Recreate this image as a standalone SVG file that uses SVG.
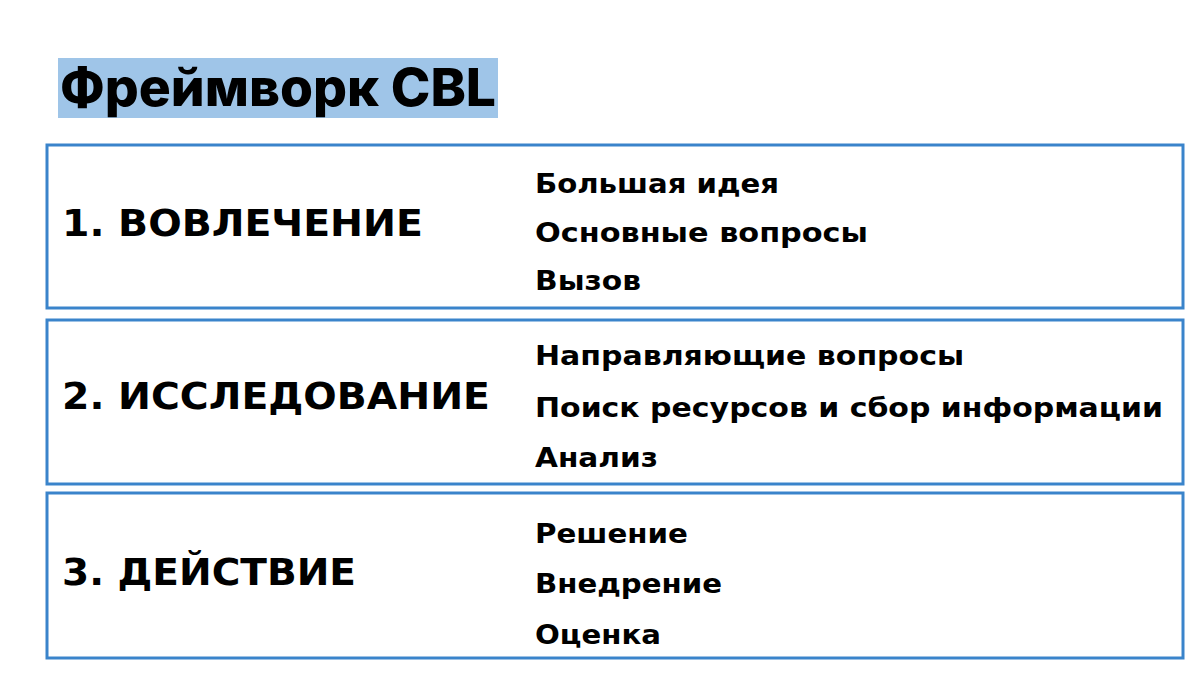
<svg xmlns="http://www.w3.org/2000/svg" width="1200" height="675" viewBox="0 0 1200 675">
<style>
.box{fill:#ffffff;stroke:#3a84cb;stroke-width:3}
.h{font-family:"DejaVu Sans",Verdana,sans-serif;font-weight:bold;font-size:38px;fill:#000}
.i{font-family:"DejaVu Sans",Verdana,sans-serif;font-weight:bold;font-size:27px;fill:#000}
.t{font-family:Inter,"Open Sans",sans-serif;font-weight:800;font-size:52px;fill:#000}
</style>
<rect width="1200" height="675" fill="#ffffff"/>
<g id="title">
<rect x="58" y="58" width="440" height="60" fill="#9fc5e8"/>
<text class="t" x="60" y="106" textLength="436" lengthAdjust="spacingAndGlyphs">Фреймворк CBL</text>
</g>
<g id="node1">
<rect class="box" x="47" y="145" width="1136" height="163"/>
<text class="h" x="62" y="236" textLength="361" lengthAdjust="spacingAndGlyphs">1. ВОВЛЕЧЕНИЕ</text>
<text class="i" x="535" y="193" textLength="244" lengthAdjust="spacingAndGlyphs">Большая идея</text>
<text class="i" x="535" y="242" textLength="333" lengthAdjust="spacingAndGlyphs">Основные вопросы</text>
<text class="i" x="535" y="290" textLength="106" lengthAdjust="spacingAndGlyphs">Вызов</text>
</g>
<g id="node2">
<rect class="box" x="47" y="320" width="1136" height="164"/>
<text class="h" x="62" y="409" textLength="428" lengthAdjust="spacingAndGlyphs">2. ИССЛЕДОВАНИЕ</text>
<text class="i" x="535" y="365" textLength="429" lengthAdjust="spacingAndGlyphs">Направляющие вопросы</text>
<text class="i" x="535" y="417" textLength="628" lengthAdjust="spacingAndGlyphs">Поиск ресурсов и сбор информации</text>
<text class="i" x="535" y="467" textLength="123" lengthAdjust="spacingAndGlyphs">Анализ</text>
</g>
<g id="node3">
<rect class="box" x="47" y="493" width="1136" height="165"/>
<text class="h" x="62" y="585" textLength="294" lengthAdjust="spacingAndGlyphs">3. ДЕЙСТВИЕ</text>
<text class="i" x="535" y="543" textLength="153" lengthAdjust="spacingAndGlyphs">Решение</text>
<text class="i" x="535" y="593" textLength="187" lengthAdjust="spacingAndGlyphs">Внедрение</text>
<text class="i" x="535" y="644" textLength="126" lengthAdjust="spacingAndGlyphs">Оценка</text>
</g>
<g id="connectors"></g>
</svg>
